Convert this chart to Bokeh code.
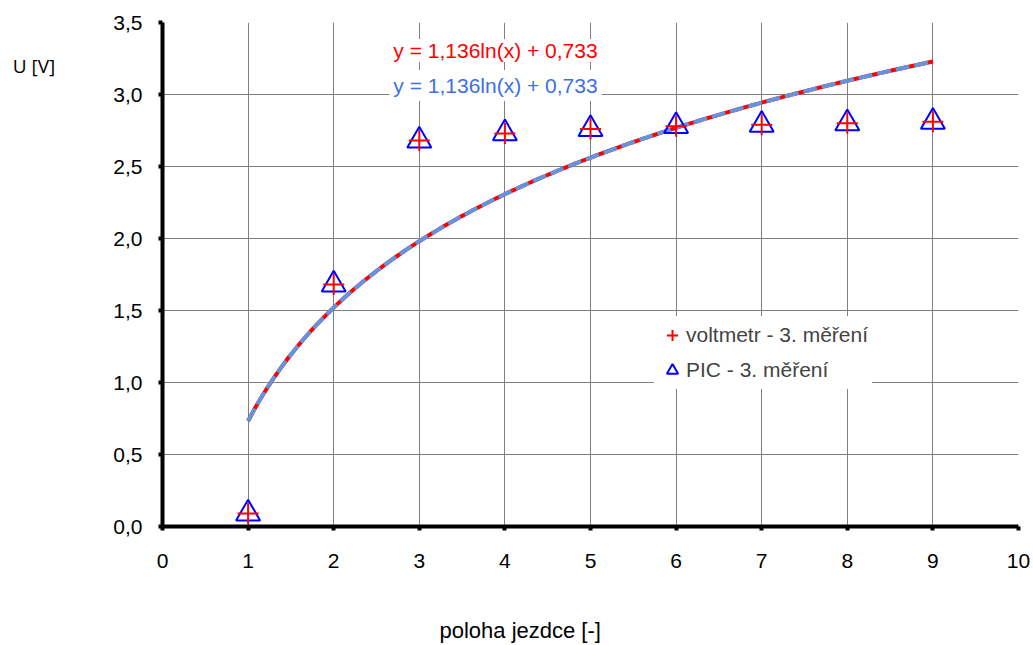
import numpy as np
from bokeh.plotting import figure
from bokeh.models import (Range1d, FixedTicker, CustomJSTickFormatter, Label,
                          Legend, LegendItem, ColumnDataSource)
from bokeh.embed import file_html
from bokeh.resources import INLINE

# ---- data ----
poloha = [1, 2, 3, 4, 5, 6, 7, 8, 9]
voltmetr = [0.09, 1.68, 2.68, 2.73, 2.76, 2.78, 2.79, 2.80, 2.81]
pic = [0.09, 1.68, 2.68, 2.73, 2.76, 2.78, 2.79, 2.80, 2.81]
trend_a = 1.136   # coefficient of ln(x)
trend_b = 0.733   # intercept
trend_label = "y = 1,136ln(x) + 0,733"
x_title = "poloha jezdce [-]"
y_title = "U [V]"
x_ticks = [0, 1, 2, 3, 4, 5, 6, 7, 8, 9, 10]
y_ticks = [0.0, 0.5, 1.0, 1.5, 2.0, 2.5, 3.0, 3.5]

FONT = "Liberation Sans"
FS = "21px"

p = figure(width=1033, height=645, output_backend="svg", toolbar_location=None,
           x_range=Range1d(0, 10), y_range=Range1d(0, 3.5),
           min_border_left=162, min_border_right=15, min_border_top=22,
           min_border_bottom=119)
p.outline_line_color = None
p.background_fill_color = "white"

for ax in (p.xaxis[0], p.yaxis[0]):
    ax.axis_line_width = 4
    ax.axis_line_color = "black"
    ax.major_tick_line_width = 4
    ax.major_tick_line_color = "black"
    ax.major_tick_in = 0
    ax.major_tick_out = 4
    ax.minor_tick_line_color = None
    ax.major_label_text_font = FONT
    ax.major_label_text_font_size = FS
    ax.major_label_text_color = "black"

p.xaxis.ticker = FixedTicker(ticks=x_ticks)
p.yaxis.ticker = FixedTicker(ticks=y_ticks)
p.xaxis.formatter = CustomJSTickFormatter(code="return tick.toFixed(0);")
p.yaxis.formatter = CustomJSTickFormatter(code="return tick.toFixed(1).replace('.', ',');")
p.xaxis.major_label_standoff = 23
p.yaxis.major_label_standoff = 16

# y axis title: horizontal, placed near the top via padding lines
p.yaxis.axis_label = y_title + "\n" * 17 + "\u00a0"
p.yaxis.axis_label_orientation = "horizontal"
p.yaxis.axis_label_text_font = "Open Sans"
p.yaxis.axis_label_text_font_size = "19px"
p.yaxis.axis_label_text_font_style = "normal"
p.yaxis.axis_label_text_color = "black"
p.yaxis.axis_label_text_line_height = 0.943
p.yaxis.axis_label_standoff = 55

# x axis title, shifted left of the frame centre with trailing no-break spaces
p.xaxis.axis_label = x_title + "\u00a0" * 23
p.xaxis.axis_label_text_font = FONT
p.xaxis.axis_label_text_font_size = "22px"
p.xaxis.axis_label_text_font_style = "normal"
p.xaxis.axis_label_text_color = "black"
p.xaxis.axis_label_standoff = 47

p.xgrid.grid_line_color = "#808080"
p.ygrid.grid_line_color = "#808080"
p.xgrid.grid_line_width = 1
p.ygrid.grid_line_width = 1

# trend lines
xs = np.linspace(poloha[0], poloha[-1], 200)
ys = trend_a * np.log(xs) + trend_b
p.line(xs, ys, line_color="#FF0000", line_width=4)
p.line(xs, ys, line_color="#6394DC", line_width=4, line_dash="14 5")

src = ColumnDataSource(dict(x=poloha, v=voltmetr, p=pic))
r_pic = p.scatter("x", "p", source=src, marker="triangle", size=24,
                  fill_color=None, line_color="#0000FF", line_width=2)
r_volt = p.scatter("x", "v", source=src, marker="cross", size=21,
                   line_color="#FF0000", line_width=2)

# equation labels
p.add_layout(Label(x=3.89, y=3.306, text=trend_label, text_color="#FF0000",
                   text_font=FONT, text_font_size=FS, text_align="center",
                   text_baseline="middle", background_fill_color="white"))
p.add_layout(Label(x=3.89, y=3.0625, text=trend_label, text_color="#3D6FE8",
                   text_font=FONT, text_font_size=FS, text_align="center",
                   text_baseline="middle", background_fill_color="white",
                   padding=4))

legend = Legend(items=[LegendItem(label="voltmetr - 3. měření", renderers=[r_volt]),
                       LegendItem(label="PIC - 3. měření", renderers=[r_pic])],
                location=(492, 137))
legend.label_text_font = FONT
legend.label_text_font_size = FS
legend.border_line_alpha = 0
legend.background_fill_color = "white"
legend.background_fill_alpha = 1
legend.glyph_width = 28
legend.glyph_height = 30
legend.label_height = 30
legend.label_standoff = 0
legend.spacing = 5
legend.padding = 4
legend.margin = 0
p.add_layout(legend)

open("out.html", "w").write(file_html(p, INLINE))
